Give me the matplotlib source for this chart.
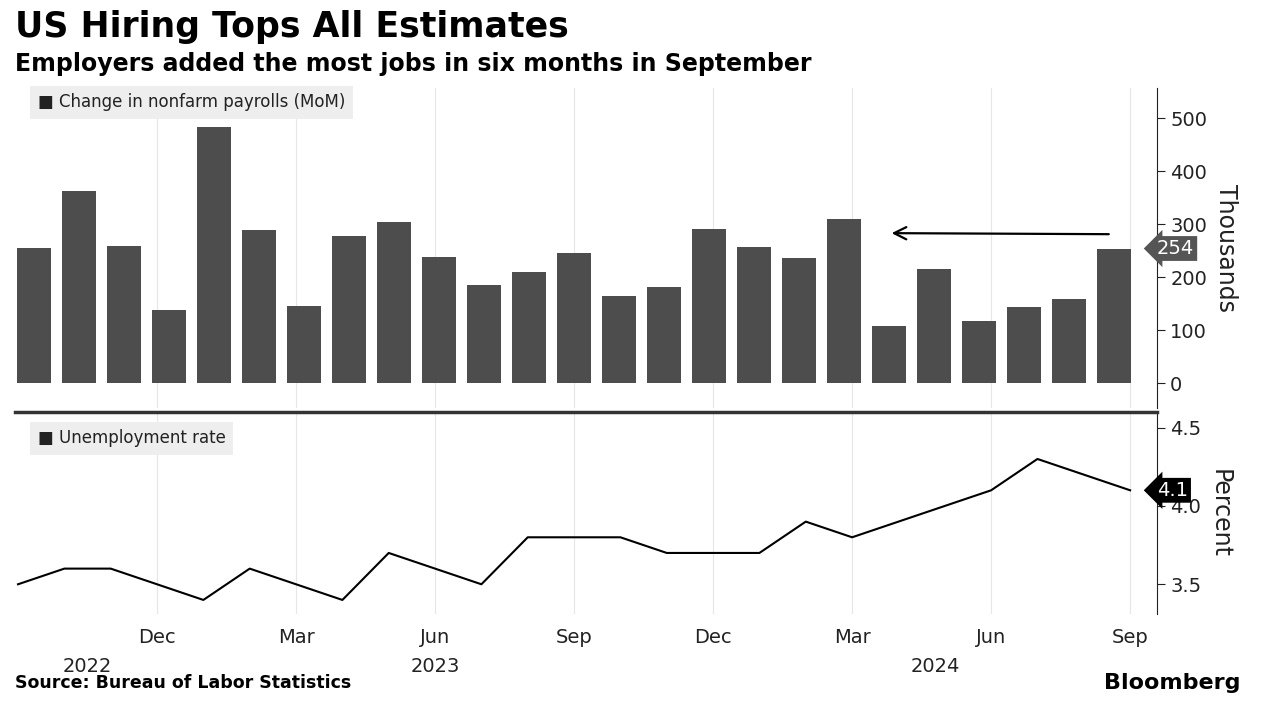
import matplotlib
matplotlib.use('Agg')
import matplotlib.pyplot as plt
from matplotlib.patches import FancyBboxPatch

payrolls = [255, 362, 258, 137, 483, 288, 146, 278, 304, 238, 185, 210, 246,
            165, 182, 290, 256, 236, 310, 108, 216, 118, 144, 159, 254]
unemp = [3.5, 3.6, 3.6, 3.5, 3.4, 3.6, 3.5, 3.4, 3.7, 3.6, 3.5, 3.8, 3.8,
         3.8, 3.7, 3.7, 3.7, 3.9, 3.8, 3.9, 4.0, 4.1, 4.3, 4.2, 4.1]
tick_idx = [3, 6, 9, 12, 15, 18, 21, 24]
tick_lab = ['Dec', 'Mar', 'Jun', 'Sep', 'Dec', 'Mar', 'Jun', 'Sep']
years = ['2022', '2023', '2024']
year_pos = [1.5, 9.0, 19.8]

bar_c = '#4d4d4d'
fig = plt.figure(figsize=(12.72, 7.14), dpi=100)
fig.patch.set_facecolor('white')
plt.rcParams['font.family'] = ['DejaVu Sans']

# top panel: bars
ax1 = fig.add_axes([0.0118, 0.4286, 0.8978, 0.4482])
x = list(range(len(payrolls)))
ax1.bar(x, payrolls, width=0.76, color=bar_c, zorder=3)
ax1.set_xlim(-0.42, 24.96)
ax1.set_ylim(-47, 557)
ax1.set_yticks([0, 100, 200, 300, 400, 500])
ax1.yaxis.tick_right()
ax1.tick_params(axis='y', labelsize=14, length=6, direction='out', colors='#222222')
ax1.set_xticks([])
for s in ['top', 'left', 'bottom']:
    ax1.spines[s].set_visible(False)
ax1.spines['right'].set_color('#222222')
ax1.yaxis.set_label_position('right')
ax1.set_ylabel('Thousands', rotation=-90, fontsize=17, labelpad=22, color='#222222')
ax1.annotate('', xy=(19.0, 283), xytext=(23.95, 281),
             arrowprops=dict(arrowstyle='->', color='black', lw=1.6, mutation_scale=22))
# vertical grid aligned with line axis positions
for t in tick_idx:
    xb = (18 + 46.33 * t - 34) / 45.0
    ax1.axvline(xb, color='#e6e6e6', lw=0.8, zorder=0)
ax1.text(1.0, (254 + 47) / 604, '254', transform=ax1.transAxes, fontsize=14,
         color='white', va='center', ha='left',
         bbox=dict(boxstyle='larrow,pad=0.15', fc='#555555', ec='none'))
ax1.text(0.02, 0.955, '\u25a0 Change in nonfarm payrolls (MoM)', transform=ax1.transAxes,
         fontsize=12, color='#222222', va='center',
         bbox=dict(boxstyle='square,pad=0.45', fc='#eeeeee', ec='none'))

# bottom panel: line
ax2 = fig.add_axes([0.0118, 0.140, 0.8978, 0.283])
ax2.plot(range(len(unemp)), unemp, color='black', lw=1.5)
ax2.set_xlim(-0.065, 24.58)
ax2.set_ylim(3.31, 4.6)
ax2.set_yticks([3.5, 4.0, 4.5])
ax2.set_yticklabels(['3.5', '4.0', '4.5'])
ax2.yaxis.tick_right()
ax2.tick_params(axis='y', labelsize=14, length=6, colors='#222222')
ax2.set_xticks(tick_idx)
ax2.set_xticklabels(tick_lab, fontsize=14, color='#222222')
ax2.tick_params(axis='x', length=0, pad=10)
for t in tick_idx:
    ax2.axvline(t, color='#e6e6e6', lw=0.8, zorder=0)
for s in ['left', 'bottom']:
    ax2.spines[s].set_visible(False)
ax2.spines['top'].set_linewidth(2.5)
ax2.spines['top'].set_color('#333333')
ax2.spines['right'].set_color('#222222')
ax2.yaxis.set_label_position('right')
ax2.set_ylabel('Percent', rotation=-90, fontsize=17, labelpad=22, color='#222222')
for yl, yp in zip(years, year_pos):
    ax2.text(yp, -0.26, yl, transform=ax2.get_xaxis_transform(), fontsize=14,
             ha='center', va='center', color='#222222')
ax2.text(1.0, (4.1 - 3.31) / 1.29, '4.1', transform=ax2.transAxes, fontsize=14,
         color='white', va='center', ha='left',
         bbox=dict(boxstyle='larrow,pad=0.15', fc='black', ec='none'))
ax2.text(0.02, 0.87, '\u25a0 Unemployment rate', transform=ax2.transAxes,
         fontsize=12, color='#222222', va='center',
         bbox=dict(boxstyle='square,pad=0.45', fc='#eeeeee', ec='none'))

fig.text(0.012, 0.962, 'US Hiring Tops All Estimates', fontsize=25, fontweight='bold', va='center')
fig.text(0.012, 0.91, 'Employers added the most jobs in six months in September',
         fontsize=17, fontweight='bold', va='center')
fig.text(0.012, 0.043, 'Source: Bureau of Labor Statistics', fontsize=12.5,
         fontweight='bold', va='center')
fig.text(0.975, 0.043, 'Bloomberg', fontsize=16, fontweight='bold', va='center', ha='right')

fig.savefig('out.png', dpi=100)
